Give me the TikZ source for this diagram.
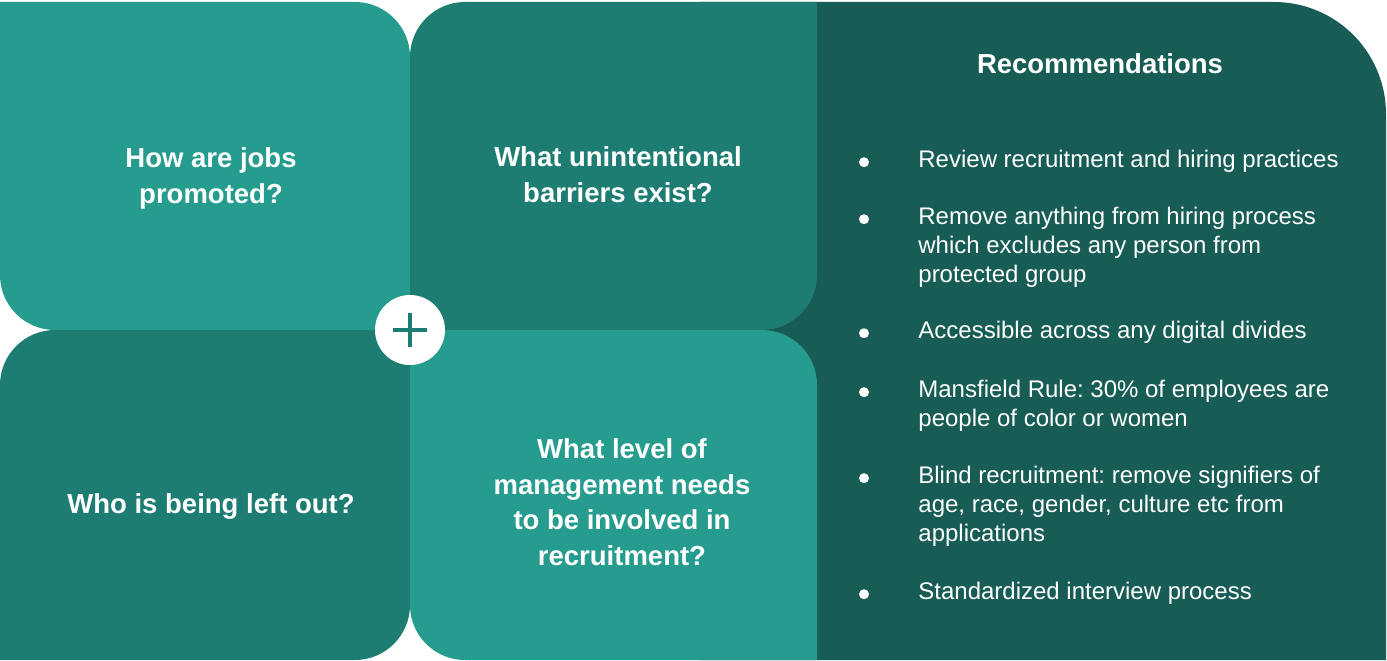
\documentclass[tikz,border=0pt]{standalone}
\usepackage{fontspec}
\setmainfont{Liberation Sans}
\usetikzlibrary{calc}
\frenchspacing

\definecolor{tealL}{HTML}{269C8F}
\definecolor{tealM}{HTML}{1E7D72}
\definecolor{tealD}{HTML}{175C55}

\tikzset{
  question/.style={text=white, align=center, inner sep=0pt, font=\fontsize{13.75}{17.75}\selectfont\bfseries},
  recitem/.style={text=white, align=left, anchor=north west, inner sep=0pt, font=\fontsize{12}{14.5}\selectfont},
  recdot/.style={fill=white},
}

\begin{document}
\begin{tikzpicture}[x=0.5pt, y=0.5pt]
  \useasboundingbox (0,0) rectangle (1387,660);

  % right panel, sits behind the four tiles
  \fill[tealD] (700,0) -- (700,658) -- (1274,658) arc[start angle=90, end angle=0, radius=112] -- (1386,0) -- cycle;

  % four tiles
  \fill[tealL] (0,658) -- (355,658) arc[start angle=90, end angle=0, radius=55] -- (410,330) -- (55,330) arc[start angle=270, end angle=180, radius=55] -- cycle;
  \fill[tealM] (410,330) -- (410,603) arc[start angle=180, end angle=90, radius=55] -- (817,658) -- (817,385) arc[start angle=0, end angle=-90, radius=55] -- cycle;
  \fill[tealM] (0,0) -- (0,275) arc[start angle=180, end angle=90, radius=55] -- (410,330) -- (410,55) arc[start angle=0, end angle=-90, radius=55] -- cycle;
  \fill[tealL] (410,330) -- (762,330) arc[start angle=90, end angle=0, radius=55] -- (817,0) -- (465,0) arc[start angle=270, end angle=180, radius=55] -- cycle;

  % plus badge in the middle
  \node[circle, fill=white, minimum size=35pt, inner sep=0pt] (plus) at (410,330) {};
  \draw[tealM, line width=2pt] ([xshift=-8.5pt]plus.center) -- ([xshift=8.5pt]plus.center);
  \draw[tealM, line width=2pt] ([yshift=-8.5pt]plus.center) -- ([yshift=8.5pt]plus.center);

  % questions
  \node[question] (qa) at (211,481.5) {How are jobs\\promoted?};
  \node[question] (qb) at (618,485.5) {What unintentional\\barriers exist?};
  \node[question] (qc) at (211,154) {Who is being left out?};
  \node[question] (qd) at (622,158) {What level of\\management needs\\to be involved in\\recruitment?};

  % recommendations (top of each item = first baseline + strut height)
  \node[question] (rec) at (1100,596) {Recommendations};

  \node[recitem] (r1) at (918,513.3) {\strut Review recruitment and hiring practices};
  \node[recitem] (r2) at (918,456.3) {\strut Remove anything from hiring process\\which excludes any person from\\protected group};
  \node[recitem] (r3) at (918,342.3) {\strut Accessible across any digital divides};
  \node[recitem] (r4) at (918,283.3) {\strut Mansfield Rule: 30\% of employees are\\people of color or women};
  \node[recitem] (r5) at (918,197.3) {\strut Blind recruitment: remove signifiers of\\age, race, gender, culture etc from\\applications};
  \node[recitem] (r6) at (918,81.3) {\strut Standardized interview process};

  \foreach \r in {r1,r2,r3,r4,r5,r6}
    \fill[recdot] ($(\r.north west)+(-54,-15.5)$) circle[radius=5];
\end{tikzpicture}
\end{document}
